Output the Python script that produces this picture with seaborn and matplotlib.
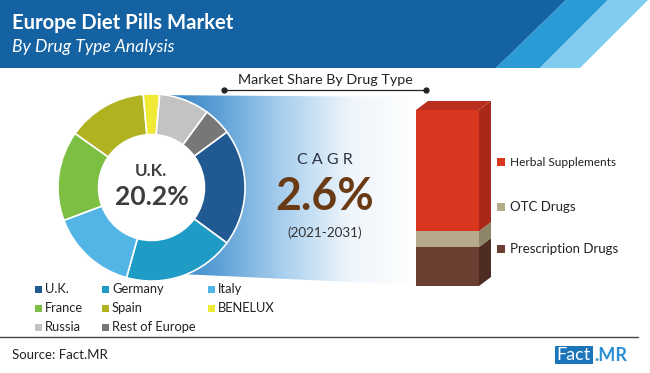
import numpy as np
import pandas as pd
import matplotlib
matplotlib.use("Agg")
import matplotlib.pyplot as plt
import seaborn as sns
from matplotlib.patches import Polygon, Rectangle, Circle
from matplotlib.colors import LinearSegmentedColormap

# ---------------- data ----------------
countries = ["U.K.", "Germany", "Italy", "France", "Spain", "BENELUX", "Russia", "Rest of Europe"]
country_share = [20.2, 19.2, 15.0, 15.5, 13.8, 2.8, 8.7, 4.8]
country_colors = ["#215a93", "#1f9cc6", "#52b5e5", "#7cbf42", "#b1b21f", "#f0e936", "#c3c3c3", "#777777"]

drug_types = ["Herbal Supplements", "OTC Drugs", "Prescription Drugs"]
drug_share = [68.8, 9.1, 22.1]
drug_front = ["#d8361f", "#b5aa8a", "#6c3d31"]
drug_side = ["#a8281a", "#8d846a", "#4f2c23"]
drug_topface = "#b92e1e"

title = "Europe Diet Pills Market"
subtitle = "By Drug Type Analysis"
panel_title = "Market Share By Drug Type"
highlight_label = "U.K."
highlight_value = "20.2%"
cagr_label = "C A G R"
cagr_value = "2.6%"
cagr_period = "(2021-2031)"
source = "Source: Fact.MR"

# ---------------- setup ----------------
sns.set_theme(style="white")
plt.rcParams["font.family"] = ["Lato", "DejaVu Sans"]

W, H = 650, 373
fig = plt.figure(figsize=(W / 100, H / 100), dpi=100)
fig.patch.set_facecolor("white")

bg = fig.add_axes([0, 0, 1, 1], zorder=0)
bg.set_xlim(0, W)
bg.set_ylim(H, 0)
bg.axis("off")

# header band
bg.add_patch(Polygon([(0, 0), (566, 0), (496, 68), (0, 68)], closed=True, fc="#1462a2", ec="none"))
bg.add_patch(Polygon([(566, 0), (608, 0), (540, 68), (496, 68)], closed=True, fc="#2b9bd6", ec="none"))
bg.add_patch(Polygon([(608, 0), (648, 0), (580, 68), (540, 68)], closed=True, fc="#80cdef", ec="none"))

texts_fit = []
t = bg.text(12, 29, title, color="white", fontsize=14, fontweight="bold", va="baseline", ha="left")
texts_fit.append((t, 223))
t = bg.text(12, 52, subtitle, color="white", fontsize=11, style="italic", fontweight="normal", va="baseline", ha="left")
texts_fit.append((t, 163))

# gradient band
cmap = LinearSegmentedColormap.from_list("g", ["#2776bd", "#5b9fd6", "#a9cfee", "#eef5fb", "#ffffff"])
grad = np.linspace(0, 1, 256).reshape(1, -1)
im = bg.imshow(grad, cmap=cmap, extent=[150, 416, 285, 95], aspect="auto", zorder=1)
clip = Polygon([(150, 95), (416, 97), (416, 285), (180, 274), (150, 270)], closed=True, transform=bg.transData)
im.set_clip_path(clip)

# panel title with line
t = bg.text(325, 84, panel_title, color="#222222", fontsize=11, va="baseline", ha="center", zorder=3)
texts_fit.append((t, 174))
bg.plot([224, 426], [89.5, 89.5], color="#222222", lw=0.9, zorder=3)
bg.plot([224, 426], [89.5, 89.5], "o", color="#222222", ms=3.5, zorder=3)

# CAGR block
t = bg.text(325, 164, cagr_label, color="#2b3445", fontsize=10, va="baseline", ha="center", zorder=3)
texts_fit.append((t, 55))
t = bg.text(325, 210, cagr_value, color="#6a3a14", fontsize=32, fontweight="bold", va="baseline", ha="center", zorder=3)
texts_fit.append((t, 99))
t = bg.text(325, 237, cagr_period, color="#333333", fontsize=10, va="baseline", ha="center", zorder=3)
texts_fit.append((t, 75))

# ---------------- donut ----------------
cx0, cy0, r = 57, 93, 189
ax_d = fig.add_axes([cx0 / W, 1 - (cy0 + r) / H, r / W, r / H], zorder=2)
ax_d.pie(country_share, colors=country_colors, startangle=country_share[0] * 3.6 / 2,
         counterclock=False, radius=1,
         wedgeprops=dict(width=0.434, edgecolor="white", linewidth=1.2))
ax_d.add_patch(Circle((0, 0), 0.566, fc="white", ec="none", zorder=0.5))
ax_d.set_xlim(-1.01, 1.01)
ax_d.set_ylim(-1.01, 1.01)
ax_d.axis("off")

t = ax_d.text(151, 176, highlight_label, transform=bg.transData, color="#3d3d3d", fontsize=13,
              fontweight="bold", ha="center", va="baseline", zorder=5)
texts_fit.append((t, 32))
t = ax_d.text(152, 205, highlight_value, transform=bg.transData, color="#3d3d3d", fontsize=20,
              fontweight="bold", ha="center", va="baseline", zorder=5)
texts_fit.append((t, 74))

# donut legend
leg_cols = [35, 102, 208]
leg_rows = [289, 308, 327]
for i, (name, col) in enumerate(zip(countries, country_colors)):
    rr, cc = divmod(i, 3)
    x, y = leg_cols[cc], leg_rows[rr]
    bg.add_patch(Rectangle((x, y - 3.5), 7, 7, fc=col, ec="none", zorder=3))
    bg.text(x + 10, y, name, color="#222222", fontsize=9.3, va="center", ha="left", zorder=3)

# ---------------- stacked 3D bar ----------------
bx0, bx1, by0, by1 = 416, 479, 110, 286
ax_b = fig.add_axes([bx0 / W, 1 - by1 / H, (bx1 - bx0) / W, (by1 - by0) / H], zorder=2)
df = pd.DataFrame({"type": drug_types, "share": drug_share})
stack = df.iloc[::-1].reset_index(drop=True)  # bottom to top
stack["top"] = stack["share"].cumsum()
front_map = dict(zip(drug_types, drug_front))
side_map = dict(zip(drug_types, drug_side))
for i in range(len(stack) - 1, -1, -1):
    row = stack.iloc[i]
    sns.barplot(x=["Drug Type"], y=[row["top"]], color=front_map[row["type"]], saturation=1,
                width=0.8, ax=ax_b, edgecolor="none", linewidth=0)
ax_b.set_xlim(-0.4, 0.4)
ax_b.set_ylim(0, stack["top"].iloc[-1])
ax_b.axis("off")

to_bg = bg.transData.inverted()
dx, dy = 12, -9
prev = 0.0
for i in range(len(stack)):
    row = stack.iloc[i]
    x0d, x1d = -0.4, 0.4
    p_lo = to_bg.transform(ax_b.transData.transform((x1d, prev)))
    p_hi = to_bg.transform(ax_b.transData.transform((x1d, row["top"])))
    xr, ybot = p_lo
    _, ytop = p_hi
    ax_b.add_patch(Polygon([(xr, ytop), (xr + dx, ytop + dy), (xr + dx, ybot + dy), (xr, ybot)],
                           closed=True, fc=side_map[row["type"]], ec="none",
                           transform=bg.transData, clip_on=False))
    prev = row["top"]
pl = to_bg.transform(ax_b.transData.transform((-0.4, prev)))
pr = to_bg.transform(ax_b.transData.transform((0.4, prev)))
ax_b.add_patch(Polygon([(pl[0], pl[1]), (pl[0] + dx, pl[1] + dy), (pr[0] + dx, pr[1] + dy), (pr[0], pr[1])],
                       closed=True, fc=drug_topface, ec="none", transform=bg.transData, clip_on=False))

# bar legend
bar_leg_y = [162, 207, 249]
for name, col, y in zip(drug_types, drug_front, bar_leg_y):
    bg.add_patch(Rectangle((497, y - 4), 8, 8, fc=col, ec="none", zorder=3))
    t = bg.text(510, y, name, color="#222222", fontsize=9.5, va="center", ha="left", zorder=3)
    if name == drug_types[0]:
        texts_fit.append((t, 106))

# ---------------- footer ----------------
bg.plot([0, 638], [337, 337], color="#444444", lw=1.0)
bg.text(12, 355, source, color="#222222", fontsize=9.5, va="center", ha="left")
bg.add_patch(Rectangle((555, 346), 38, 18, fc="#1b75bb", ec="none"))
bg.text(574, 355.5, "Fact", color="white", fontsize=13, va="center", ha="center")
bg.text(594, 355.5, ".MR", color="#2a8fd4", fontsize=13, fontweight="bold", va="center", ha="left")

# fit text widths
fig.canvas.draw()
ren = fig.canvas.get_renderer()
for t, w in texts_fit:
    bb = t.get_window_extent(ren)
    if bb.width > 0:
        t.set_fontsize(t.get_fontsize() * w / bb.width)

fig.savefig("out.png", dpi=100)
